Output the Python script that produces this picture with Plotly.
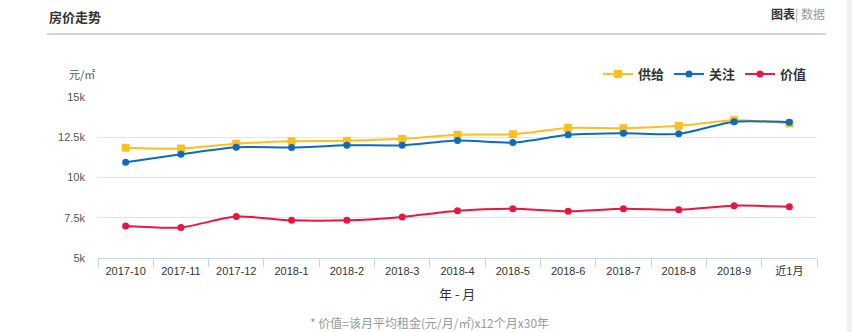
import plotly.graph_objects as go

months = ["2017-10", "2017-11", "2017-12", "2018-1", "2018-2", "2018-3", "2018-4",
          "2018-5", "2018-6", "2018-7", "2018-8", "2018-9", "近1月"]
supply = [11850, 11800, 12100, 12250, 12280, 12400, 12650, 12690, 13080, 13060, 13210, 13560, 13370]
attention = [10950, 11440, 11880, 11860, 12000, 12000, 12300, 12170, 12650, 12750, 12710, 13460, 13430]
value = [6990, 6900, 7570, 7340, 7340, 7550, 7940, 8060, 7900, 8060, 8000, 8250, 8190]
y_ticks = [5000, 7500, 10000, 12500, 15000]
y_tick_text = ["5k", "7.5k", "10k", "12.5k", "15k"]

FONT = "Liberation Sans, Arial, Noto Sans CJK SC, sans-serif"
CJK = "Noto Sans CJK SC, Liberation Sans, sans-serif"

fig = go.Figure()
series = [
    ("供给", supply, "#fcbf1f", "square", 8),
    ("关注", attention, "#0b6bbf", "circle", 7),
    ("价值", value, "#e9173f", "circle", 7),
]
for name, vals, color, sym, size in series:
    fig.add_trace(go.Scatter(
        x=months, y=vals, name=name, mode="lines+markers",
        line=dict(color=color, width=2, shape="spline", smoothing=0.7),
        marker=dict(color=color, symbol=sym, size=size),
    ))

L, R, T, B = 98, 35, 97, 74
W, H = 852, 332
pw = W - L - R
ph = H - T - B

def px(x):
    return (x - L) / pw

def py(y):
    return (H - B - y) / ph

fig.update_layout(
    width=W, height=H,
    margin=dict(l=L, r=R, t=T, b=B),
    paper_bgcolor="white", plot_bgcolor="white",
    font=dict(family=FONT, size=11, color="#333"),
    showlegend=True,
    legend=dict(
        orientation="h", x=px(812), xanchor="right", y=py(74), yanchor="middle",
        font=dict(family=CJK, size=13, color="#333", weight="bold"),
        itemwidth=30, traceorder="normal", bgcolor="rgba(0,0,0,0)",
    ),
    xaxis=dict(
        type="category", range=[-0.5, len(months) - 0.5],
        showgrid=False, showline=True, linecolor="#c6d4e9", linewidth=1,
        ticks="outside", tickson="boundaries", ticklen=8, tickcolor="#c6d4e9",
        ticklabelstandoff=3,
        tickfont=dict(family=FONT, size=11, color="#333"), fixedrange=True,
    ),
    yaxis=dict(
        range=[5000, 15000], tickvals=y_ticks, ticktext=y_tick_text,
        showgrid=True, gridcolor="#e6e6e6", gridwidth=1, zeroline=False, showline=False,
        ticks="", ticklabelstandoff=12,
        tickfont=dict(family=FONT, size=11, color="#555"), fixedrange=True,
    ),
)

annotations = [
    dict(text="<b>房价走势</b>", x=px(47), y=py(17), xanchor="left", yanchor="middle",
         font=dict(family=CJK, size=13, color="#333")),
    dict(text="<b>图表</b><span style='color:#999'>| 数据</span>", x=px(827), y=py(14),
         xanchor="right", yanchor="middle", font=dict(family=CJK, size=12, color="#333")),
    dict(text="元/㎡", x=px(67), y=py(74), xanchor="left", yanchor="middle",
         font=dict(family=CJK, size=11, color="#555")),
    dict(text="年 - 月", x=px(457), y=py(293), xanchor="center", yanchor="middle",
         font=dict(family=CJK, size=13, color="#333")),
    dict(text="* 价值=该月平均租金(元/月/㎡)x12个月x30年", x=px(429), y=py(322),
         xanchor="center", yanchor="middle", font=dict(family=CJK, size=12, color="#999")),
]
for a in annotations:
    a.update(xref="paper", yref="paper", showarrow=False)
fig.update_layout(annotations=annotations)

fig.add_shape(type="line", xref="paper", yref="paper", x0=px(47), x1=px(826),
              y0=py(34), y1=py(34), line=dict(color="#d0d4dd", width=2))
fig.add_shape(type="rect", xref="paper", yref="paper", x0=px(846.5), x1=px(853),
              y0=py(-1), y1=py(333), line=dict(width=0), fillcolor="#efefef", layer="below")

fig.write_html("out.html", config=dict(displayModeBar=False))
